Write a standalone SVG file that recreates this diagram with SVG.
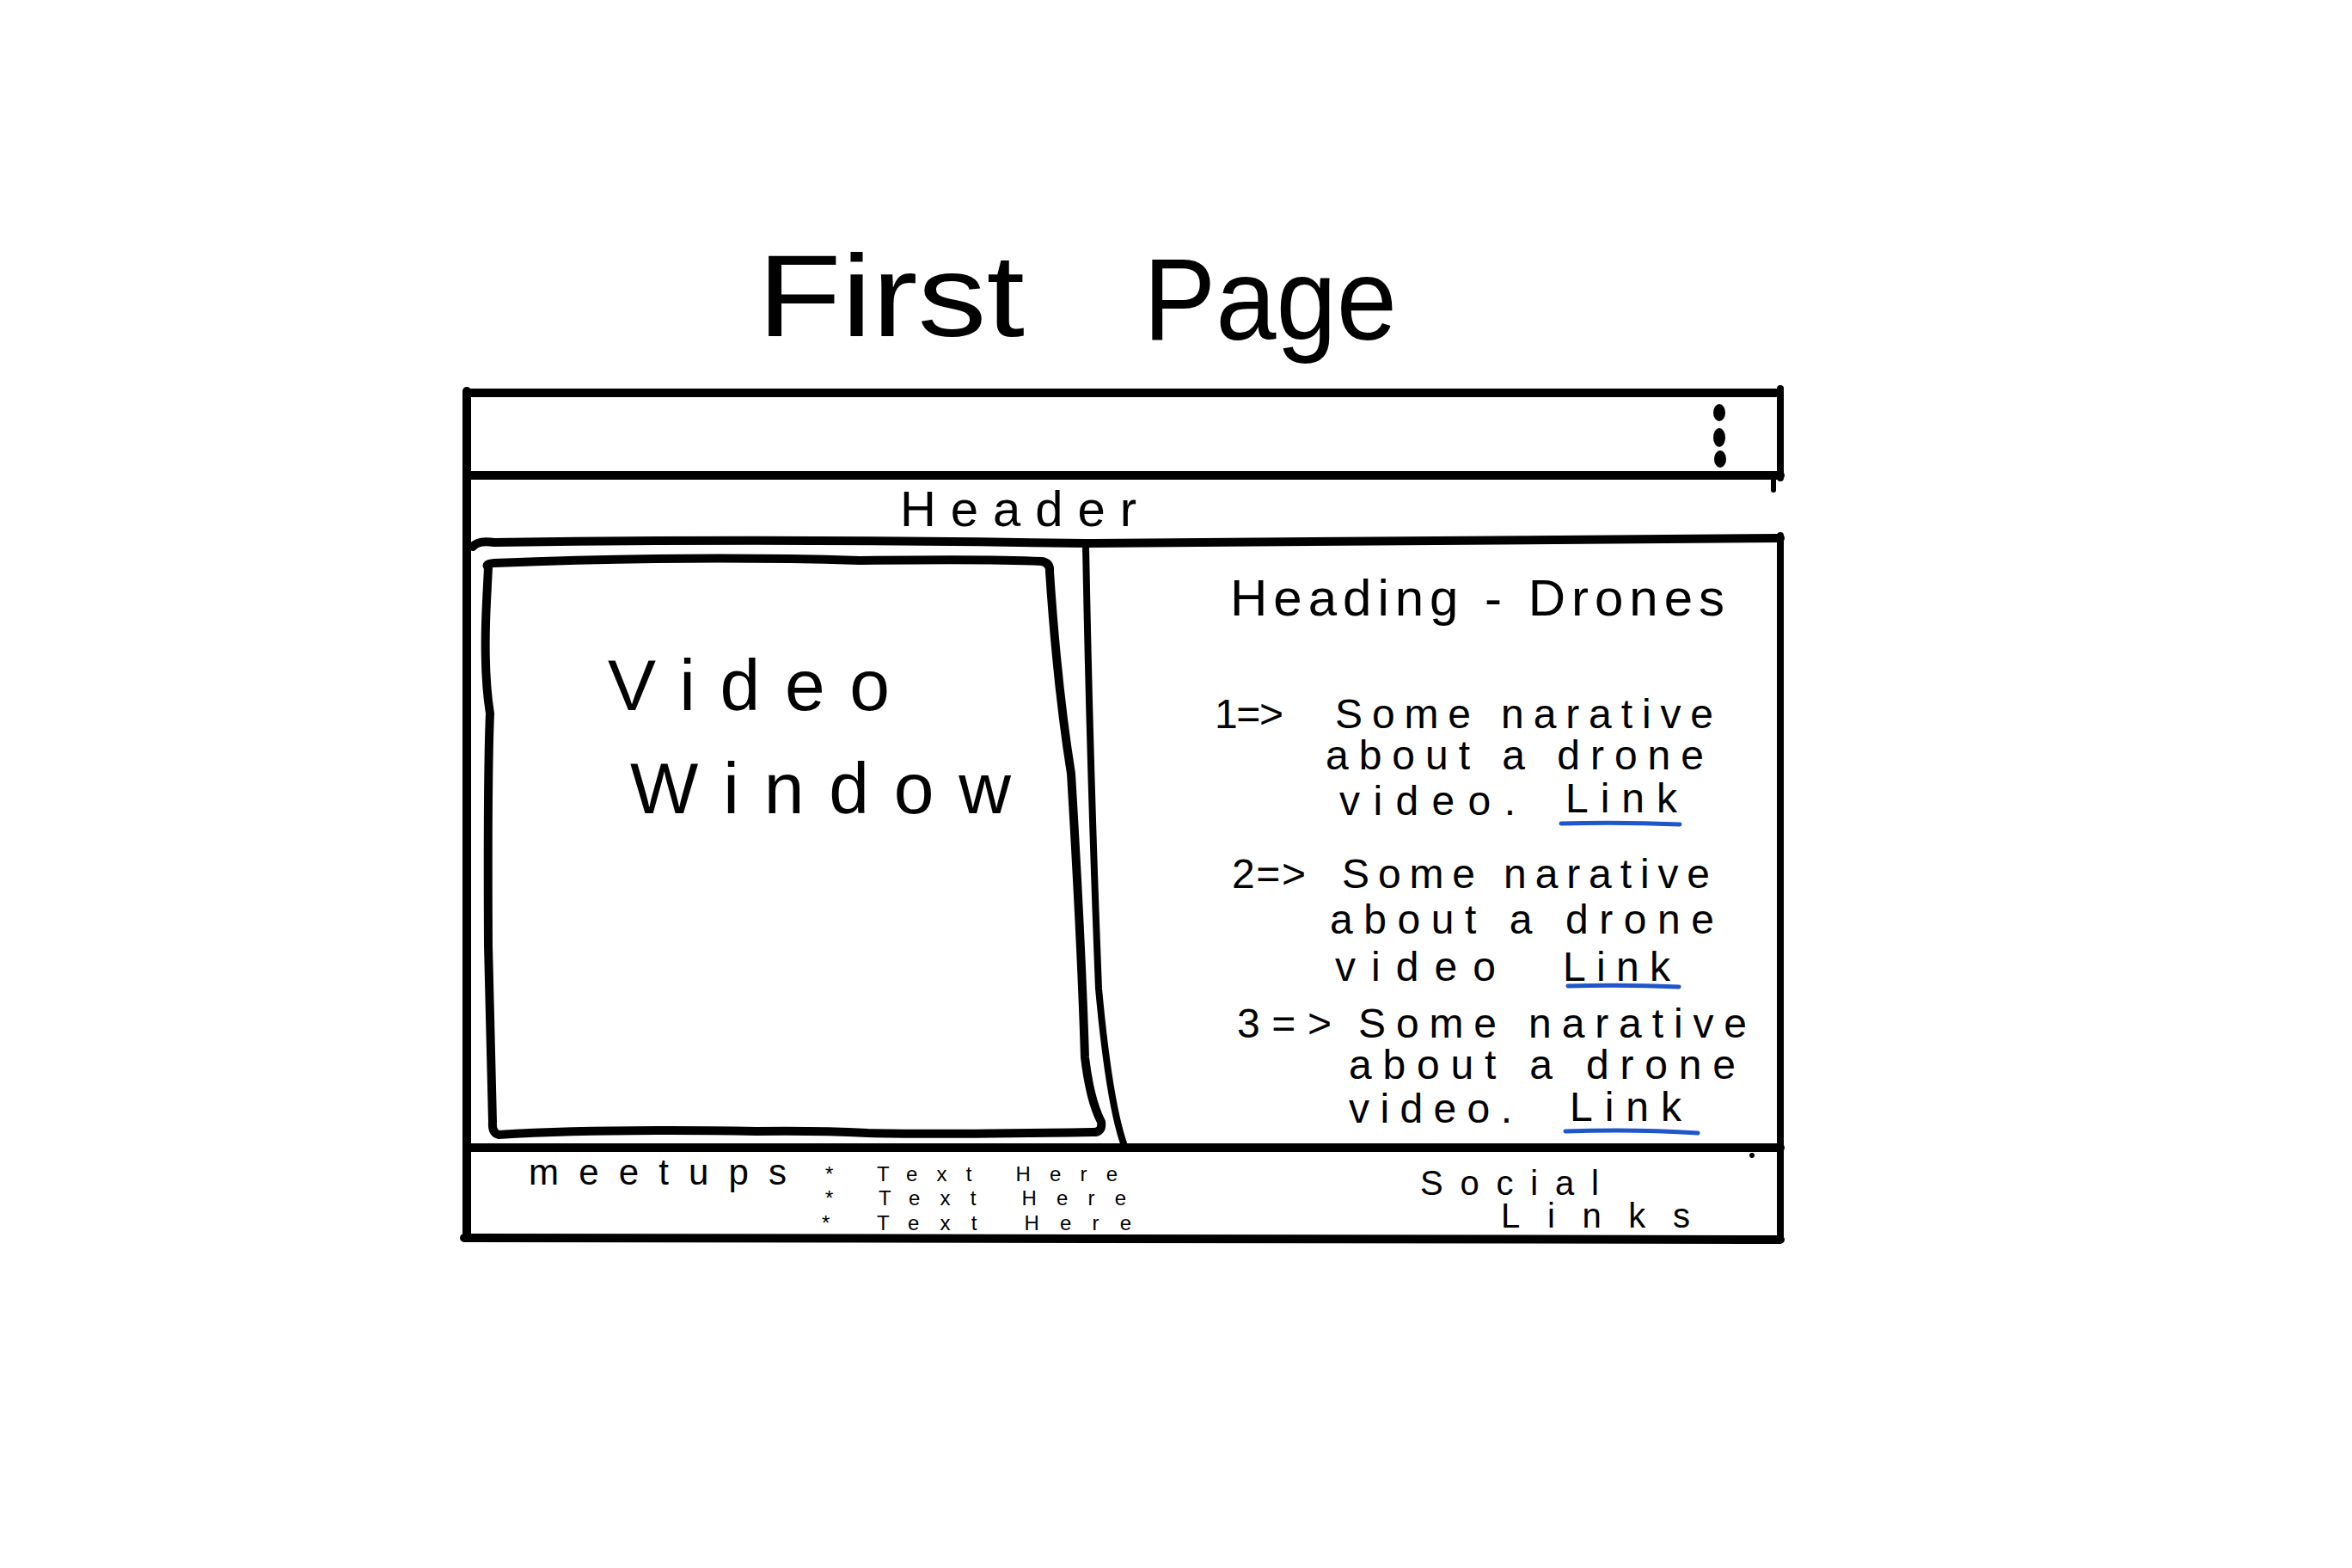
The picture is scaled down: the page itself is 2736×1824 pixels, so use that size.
<svg xmlns="http://www.w3.org/2000/svg" width="2736" height="1824" viewBox="0 0 2736 1824">
<style>
  .ln{fill:none;stroke:#000;stroke-linecap:round;stroke-linejoin:round}
  .thick{stroke-width:10}
  .mid{stroke-width:8}
  .thin{stroke-width:6}
  .t{font-family:"Liberation Sans","DejaVu Sans",sans-serif;fill:#000}
  .link{fill:none;stroke:#1f56c9;stroke-width:5;stroke-linecap:round}
</style>
<rect width="2736" height="1824" fill="#fff"/>

<g id="title">
  <text class="t" x="881" y="391" font-size="136" textLength="311" lengthAdjust="spacingAndGlyphs">First</text>
  <text class="t" x="1330" y="395" font-size="136" textLength="295" lengthAdjust="spacingAndGlyphs">Page</text>
</g>

<g id="browser-frame">
  <path class="ln thick" d="M543 457 L2066 457"/>
  <path class="ln thick" d="M543 455 L543 1440"/>
  <path class="ln mid" d="M2071 452 L2071 556"/>
  <path class="ln thin" d="M2063 558 L2063 570"/>
  <path class="ln mid" d="M2071 623 L2071 1440"/>
  <path class="ln thick" d="M543 553 L2071 553"/>
  <ellipse cx="2000" cy="480" rx="7" ry="10" fill="#000"/>
  <ellipse cx="2000" cy="509" rx="7" ry="11" fill="#000"/>
  <ellipse cx="2001" cy="534" rx="7" ry="10" fill="#000"/>
</g>

<g id="header">
  <path class="ln thick" d="M550 636 Q556 628 575 631 Q900 626 1263 632 Q1700 628 2071 626"/>
  <text class="t" x="1047" y="612" font-size="58" textLength="275" lengthAdjust="spacing">Header</text>
</g>

<g id="video-window">
  <path class="ln thick" d="M568 660 Q563 656 575 655 Q800 646 1000 652 Q1150 650 1212 653 Q1222 655 1221 665 Q1230 800 1246 900 Q1258 1100 1262 1230 Q1268 1280 1281 1305 Q1283 1318 1270 1317 Q1100 1320 1010 1318 Q950 1315 880 1316 Q700 1313 580 1320 Q572 1318 573 1305 Q570 1200 568 1100 Q567 900 570 830 Q562 780 566 700 Z"/>
  <text class="t" x="707" y="826" font-size="84" textLength="328" lengthAdjust="spacing">Video</text>
  <text class="t" x="733" y="946" font-size="84" textLength="443" lengthAdjust="spacing">Window</text>
</g>

<g id="divider">
  <path class="ln mid" d="M1263 635 Q1268 900 1278 1150 Q1290 1280 1307 1330"/>
</g>

<g id="content">
  <text class="t" x="1431" y="716" font-size="60" textLength="575" lengthAdjust="spacing">Heading - Drones</text>

  <text class="t" x="1413" y="847" font-size="48" textLength="80" lengthAdjust="spacing">1=&gt;</text>
  <text class="t" x="1553" y="847" font-size="48" textLength="440" lengthAdjust="spacing">Some narative</text>
  <text class="t" x="1542" y="895" font-size="48" textLength="440" lengthAdjust="spacing">about a drone</text>
  <text class="t" x="1558" y="948" font-size="48" textLength="205" lengthAdjust="spacing">video.</text>
  <text class="t" x="1821" y="945" font-size="48" textLength="130" lengthAdjust="spacing">Link</text>
  <path class="link" d="M1816 958 Q1885 956 1954 959"/>

  <text class="t" x="1433" y="1033" font-size="48" textLength="86" lengthAdjust="spacing">2=&gt;</text>
  <text class="t" x="1561" y="1033" font-size="48" textLength="428" lengthAdjust="spacing">Some narative</text>
  <text class="t" x="1547" y="1086" font-size="48" textLength="447" lengthAdjust="spacing">about a drone</text>
  <text class="t" x="1553" y="1141" font-size="48" textLength="187" lengthAdjust="spacing">video</text>
  <text class="t" x="1818" y="1141" font-size="48" textLength="125" lengthAdjust="spacing">Link</text>
  <path class="link" d="M1824 1147 Q1890 1145 1953 1148"/>

  <text class="t" x="1439" y="1207" font-size="48" textLength="110" lengthAdjust="spacing">3=&gt;</text>
  <text class="t" x="1580" y="1207" font-size="48" textLength="452" lengthAdjust="spacing">Some narative</text>
  <text class="t" x="1569" y="1255" font-size="48" textLength="450" lengthAdjust="spacing">about a drone</text>
  <text class="t" x="1569" y="1306" font-size="48" textLength="190" lengthAdjust="spacing">video.</text>
  <text class="t" x="1826" y="1304" font-size="48" textLength="130" lengthAdjust="spacing">Link</text>
  <path class="link" d="M1821 1316 Q1900 1313 1975 1318"/>
</g>

<g id="footer">
  <path class="ln thick" d="M543 1335 L2071 1335"/>
  <path class="ln thick" d="M540 1440 L2071 1442"/>
  <circle cx="2038" cy="1344" r="3" fill="#000"/>
  <text class="t" x="615" y="1378" font-size="42" textLength="300" lengthAdjust="spacing">meetups</text>
  <text class="t" x="960" y="1374" font-size="24" textLength="340" lengthAdjust="spacing">* Text Here</text>
  <text class="t" x="960" y="1402" font-size="24" textLength="350" lengthAdjust="spacing">* Text Here</text>
  <text class="t" x="956" y="1431" font-size="24" textLength="360" lengthAdjust="spacing">* Text Here</text>
  <text class="t" x="1652" y="1390" font-size="40" textLength="208" lengthAdjust="spacing">Social</text>
  <text class="t" x="1746" y="1428" font-size="40" textLength="220" lengthAdjust="spacing">Links</text>
</g>
</svg>
